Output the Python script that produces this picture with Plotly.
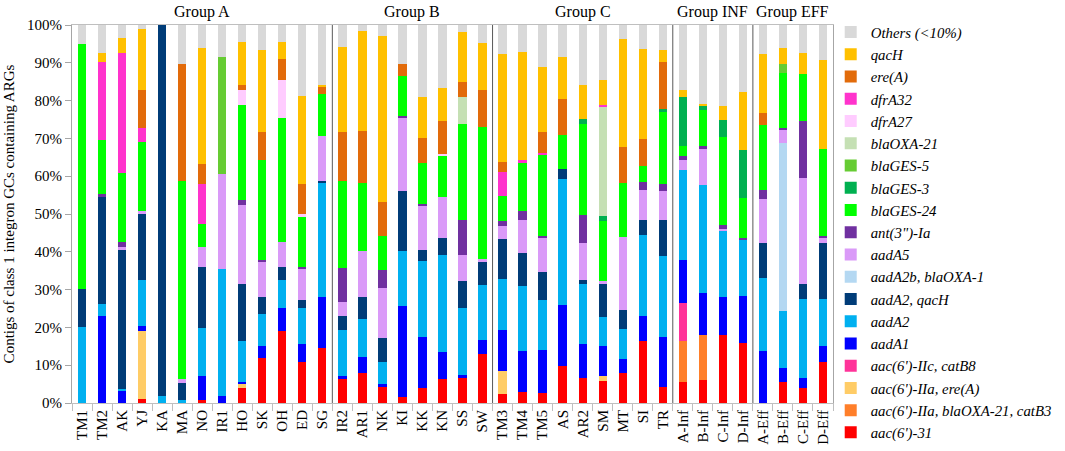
import plotly.graph_objects as go

samples = ["TM1","TM2","AK","YJ","KA","MA","NO","IR1","HO","SK","OH","ED","SG",
           "IR2","AR1","NK","KI","KK","KN","SS","SW",
           "TM3","TM4","TM5","AS","AR2","SM","MT","SI","TR",
           "A-Inf","B-Inf","C-Inf","D-Inf",
           "A-Eff","B-Eff","C-Eff","D-Eff"]

groups = ["Group A", "Group B", "Group C", "Group INF", "Group EFF"]
group_sizes = [13, 8, 9, 4, 4]

aac6_31 = [0,0,0,1.1,0,0,0.9,0,4.0,11.9,19.1,10.8,14.6, 6.4,7.9,4.4,1.5,4.0,6.4,6.6,13.0,
           2.4,2.8,2.6,9.9,6.6,5.9,7.9,16.5,4.2, 5.6,6.2,18.1,15.9, 0,5.6,4.1,10.8]
aac6_IIa_oxa21_catB3 = [0,0,0,0,0,0,0,0,0,0,0,0,0, 0,0,0,0,0,0,0,0,
           0,0,0,0,0,0,0,0,0, 10.7,11.7,0,0, 0,0,0,0]
aac6_IIa_ereA = [0,0,0,17.9,0,0,0,0,0.9,0,0,0,0, 0,0,0,0,0,0,0,0,
           6.0,0,0,0,0,1.2,0,0,0, 0,0,0,0, 0,0,0,0]
aac6_IIc_catB8 = [0,0,0,0,0,0,0,0,0,0,0,0,0, 0,0,0,0,0,0,0,0,
           0,0,0,0,0,0,0,0,0, 10.2,0,0,0, 0,0,0,0]
aadA1 = [0,22.9,3.1,1.5,0,0,6.3,1.8,0.6,3.3,6.0,4.9,13.4, 0.7,4.2,0.5,24.2,13.4,7.0,0.7,3.8,
         11.0,10.9,11.3,16.1,9.1,7.9,3.8,6.4,13.2, 11.2,11.2,9.9,12.3, 13.7,3.7,2.5,4.2]
aadA2 = [20.0,3.4,0.6,12.1,1.9,0.7,12.6,33.6,10.8,8.3,7.5,9.4,30.4, 12.3,10.2,5.9,14.6,20.1,25.8,17.8,14.5,
         13.4,17.2,13.4,33.3,15.8,7.7,7.9,21.6,21.4, 23.9,28.7,17.4,14.8, 19.4,15.0,20.9,12.5]
aadA2_qacH = [10.2,28.2,36.7,17.4,98.1,4.6,16.2,0,15.2,4.5,3.3,2.1,0.3, 3.7,5.7,6.3,15.7,2.9,4.5,7.1,5.9,
         10.6,8.8,7.3,2.7,1.1,9.0,5.1,3.8,9.7, 0,0,0,0, 9.1,0,4.0,14.8]
aadA2b_oxa1 = [0,0,0,0,0,0,0,0,0,0,0,0,0, 0,0,0,0,0,0,0,0,
         0,0,0,0,0,0,0,0,0, 0,0,0,0, 0,44.5,0,0]
aadA5 = [0,0,0.9,0.7,0,1.1,5.4,25.3,21.0,9.5,6.6,8.4,12.0, 3.5,12.1,13.3,19.6,11.9,10.7,7.0,0.9,
         3.5,8.8,9.1,0,9.7,0.5,19.1,8.1,7.5, 2.8,9.5,0.7,0, 11.9,3.5,28.0,1.4]
ant3_Ia = [0,0.8,1.2,0,0,0,0,0,1.1,0.4,0,0.4,0, 9.1,0,4.8,0.4,0.3,0,9.3,0,
         1.2,2.4,0.4,0,7.5,0,0,2.0,1.9, 1.0,0.6,1.1,0.7, 2.2,0.4,15.0,0.4]
blaGES24 = [64.9,14.4,18.3,18.3,0,52.2,6.0,0,25.3,26.5,32.8,13.2,11.1, 23.1,18.1,8.9,10.6,10.9,10.9,25.4,34.9,
         6.6,12.6,21.4,8.8,24.1,15.9,14.4,4.2,19.1, 2.5,9.5,23.1,10.5, 17.3,14.5,12.6,23.2]
blaGES3 = [0,0,0,0,0,0,0,0,0,0,0,0,0, 0,0,0,0,0,0,0,0,
         0,0,0,0,1.3,1.5,0,0,0.9, 13.0,1.3,4.7,12.8, 0,0,0,0]
blaGES5 = [0,0,0,0,0,0,0,30.8,0,0,0,0,0, 0,0,0,0,0,0,0,0,
         0,0,0,0,0,0,0,0,0, 0,0,0,0, 0,2.5,0,0]
blaOXA21 = [0,0,0,0,0,0,0,0,0,0,0,0,0, 0,0,0,0,0,0,7.1,0,
         0,0,0,0,0,28.9,0,0,0, 0,0,0,0, 0,0,0,0]
dfrA27 = [0,0,0,0,0,0,0,0,3.8,0,10.1,0.8,0, 0,0,0,0,0,0.7,0,0,
         0,0,0,0,0,0,0,0,0, 0,0,0,0, 0,0,0,0]
dfrA32 = [0,20.5,31.8,3.7,0,0,10.6,0,0,0,0,0,0, 0,0,0,0,0,0,0,0,
         6.3,0.7,0.6,0,0,0.4,0,0,0, 0,0,0,0, 0,0,0,0]
ereA = [0,0,0,10.0,0,31.2,5.3,0,1.5,7.2,5.6,8.0,2.0, 12.8,13.8,9.0,3.2,6.6,8.5,3.8,9.7,
        2.7,0,5.7,9.7,0,0,9.4,7.2,12.2, 0,0,0,0, 3.1,0,0,0]
qacH = [0,2.4,3.9,16.2,0,0,30.6,0,11.2,21.9,4.4,23.1,0.3, 22.5,26.3,43.9,0,10.9,8.8,13.3,12.5,
        28.5,28.6,17.0,11.0,8.8,6.6,28.8,23.9,3.2, 1.8,0.4,3.5,15.3, 15.7,4.3,5.5,23.5]
others = [4.9,7.4,3.5,1.1,0,10.2,6.1,8.5,4.6,6.5,4.6,18.9,15.9, 5.9,1.7,3.0,10.2,19.0,16.7,1.9,4.8,
          7.8,7.2,11.2,8.5,16.0,14.5,3.6,6.3,6.7, 17.3,20.9,21.5,17.7, 7.6,5.9,7.4,9.2]

series = [
    ("aac(6')-31", aac6_31, "#ff0000"),
    ("aac(6')-IIa, blaOXA-21, catB3", aac6_IIa_oxa21_catB3, "#ff7f2a"),
    ("aac(6')-IIa, ere(A)", aac6_IIa_ereA, "#ffcc66"),
    ("aac(6')-IIc, catB8", aac6_IIc_catB8, "#ff3399"),
    ("aadA1", aadA1, "#0000ff"),
    ("aadA2", aadA2, "#00b0f0"),
    ("aadA2, qacH", aadA2_qacH, "#003c78"),
    ("aadA2b, blaOXA-1", aadA2b_oxa1, "#b4d8f2"),
    ("aadA5", aadA5, "#da9af8"),
    ("ant(3\")-Ia", ant3_Ia, "#7030a0"),
    ("blaGES-24", blaGES24, "#00ff00"),
    ("blaGES-3", blaGES3, "#00b050"),
    ("blaGES-5", blaGES5, "#66cc33"),
    ("blaOXA-21", blaOXA21, "#c5e0b4"),
    ("dfrA27", dfrA27, "#ffccff"),
    ("dfrA32", dfrA32, "#ff33cc"),
    ("ere(A)", ereA, "#e26b0a"),
    ("qacH", qacH, "#ffc000"),
    ("Others (&lt;10%)", others, "#d9d9d9"),
]

FONT = "Liberation Serif"
fig = go.Figure()
for i, (name, vals, col) in enumerate(series):
    fig.add_trace(go.Bar(
        x=samples, y=vals, name="<i>" + name + "</i>",
        marker=dict(color=col, line=dict(width=0)),
    ))

# group separators and labels
shapes = []
annotations = []
start = 0
for gi, (g, n) in enumerate(zip(groups, group_sizes)):
    center = start + (n - 1) / 2
    annotations.append(dict(x=center, y=1.034, xref="x", yref="paper", text=g,
                            showarrow=False, font=dict(family=FONT, size=16, color="#000"),
                            yanchor="middle"))
    if gi < len(groups) - 1:
        pos = start + n - 0.5
        shapes.append(dict(type="line", xref="x", yref="paper", x0=pos, x1=pos, y0=0, y1=1,
                           line=dict(color="#595959", width=1)))
    start += n

fig.update_layout(
    barmode="stack",
    bargap=0.585,
    width=1065, height=451,
    margin=dict(l=72, r=232, t=25, b=48, autoexpand=False),
    plot_bgcolor="white", paper_bgcolor="white",
    font=dict(family=FONT, size=15, color="#000"),
    shapes=shapes, annotations=annotations,
    legend=dict(traceorder="reversed", x=0.997, y=1.024, xanchor="left", yanchor="top",
                font=dict(family=FONT, size=14.8), itemclick=False,
                bgcolor="rgba(0,0,0,0)", maxheight=1.0),
    xaxis=dict(type="category", tickangle=-90, tickfont=dict(size=15), ticks="outside",
               tickson="boundaries", ticklen=7, tickcolor="#bfbfbf",
               showline=True, linecolor="#bfbfbf", mirror=True, range=[-0.5, 37.5]),
    yaxis=dict(range=[0, 100], dtick=10, ticksuffix="%", ticks="outside", ticklen=6,
               tickcolor="#a6a6a6", showline=True, linecolor="#a6a6a6", mirror=True,
               showgrid=False, zeroline=False, tickfont=dict(size=15),
               title=dict(text="Contigs of class 1 integron GCs containing ARGs",
                          font=dict(size=15), standoff=8)),
)

fig.write_html("out.html", config={"displayModeBar": False},
               post_script="document.body.style.margin='0';document.body.style.overflow='hidden';")
